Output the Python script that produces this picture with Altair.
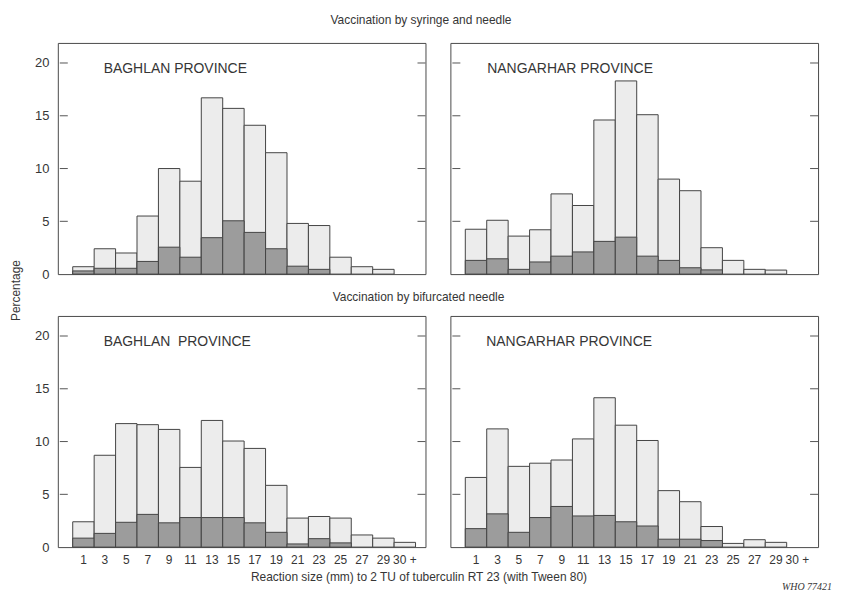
import altair as alt
import pandas as pd

labels = ["1", "3", "5", "7", "9", "11", "13", "15", "17", "19", "21", "23", "25", "27", "29", "30 +"]

# Vaccination by syringe and needle
syr_baghlan_total = [0.7, 2.4, 2.0, 5.5, 10.0, 8.8, 16.7, 15.7, 14.1, 11.5, 4.8, 4.6, 1.6, 0.7, 0.45, 0]
syr_baghlan_hatched = [0.3, 0.55, 0.55, 1.2, 2.55, 1.6, 3.45, 5.05, 3.95, 2.4, 0.75, 0.45, 0, 0, 0, 0]
syr_nangarhar_total = [4.25, 5.1, 3.6, 4.2, 7.6, 6.5, 14.6, 18.3, 15.1, 9.0, 7.9, 2.5, 1.3, 0.45, 0.38, 0]
syr_nangarhar_hatched = [1.3, 1.45, 0.45, 1.15, 1.7, 2.1, 3.1, 3.5, 1.7, 1.3, 0.6, 0.4, 0, 0, 0, 0]

# Vaccination by bifurcated needle
bif_baghlan_total = [2.4, 8.7, 11.7, 11.6, 11.15, 7.55, 12.0, 10.05, 9.35, 5.85, 2.75, 2.9, 2.75, 1.15, 0.85, 0.45]
bif_baghlan_hatched = [0.85, 1.3, 2.35, 3.1, 2.3, 2.8, 2.8, 2.8, 2.3, 1.4, 0.3, 0.8, 0.4, 0, 0, 0]
bif_nangarhar_total = [6.6, 11.2, 7.65, 7.95, 8.25, 10.25, 14.15, 11.55, 10.1, 5.35, 4.3, 1.95, 0.35, 0.7, 0.45, 0]
bif_nangarhar_hatched = [1.75, 3.15, 1.4, 2.8, 3.85, 2.95, 3.0, 2.4, 2.0, 0.75, 0.75, 0.62, 0, 0, 0, 0]

y_tick_values = [0, 5, 10, 15, 20]
inner_ticks = [5, 10, 15, 20]

W, H = 369, 232
Y_MAX = 21.9
FONT = "Liberation Sans"
INK = "#363636"
DOT_FILL = "#ececec"
HATCH_FILL = "#9c9c9c"


def panel(total, hatched, name, name_x, show_x=False, show_y=False,
          pct_title=False, x_title=False, extra=None):
    df = pd.DataFrame({"label": labels, "total": total, "hatched": hatched})
    xscale = alt.Scale(domain=labels, paddingInner=0, paddingOuter=0.58, align=0.6)
    yscale = alt.Scale(domain=[0, Y_MAX], nice=False, zero=True)

    if show_x:
        xkw = dict(labelAngle=0, ticks=False, domain=False, grid=False,
                   labelPadding=7, labelFontSize=12, labelColor=INK, labelFont=FONT)
        if x_title:
            xkw.update(title="Reaction size (mm) to 2 TU of tuberculin RT 23 (with Tween 80)",
                       titleX=362, titleY=30, titleAlign="center", titleBaseline="middle",
                       titleFontSize=12, titleFontWeight="normal", titleColor=INK, titleFont=FONT)
        else:
            xkw.update(title=None)
        xaxis = alt.Axis(**xkw)
    else:
        xaxis = None

    if show_y:
        ykw = dict(values=y_tick_values, ticks=False, domain=False, grid=False,
                   labelPadding=9, labelFontSize=13, labelColor=INK, labelFont=FONT)
        if pct_title:
            ykw.update(title="Percentage", titleX=-42, titleY=248, titleAngle=270,
                       titleAlign="center", titleBaseline="middle", titleFontSize=12,
                       titleFontWeight="normal", titleColor=INK, titleFont=FONT)
        else:
            ykw.update(title=None)
        yaxis = alt.Axis(**ykw)
    else:
        yaxis = None

    x = alt.X("label:O", scale=xscale, axis=xaxis, sort=labels)
    base = alt.Chart(df)
    tot = base.transform_filter("datum.total > 0").mark_bar(
        fill=DOT_FILL, stroke="#444444", strokeWidth=1
    ).encode(x=x, y=alt.Y("total:Q", scale=yscale, axis=yaxis))
    hat = base.transform_filter("datum.hatched > 0").mark_bar(
        fill=HATCH_FILL, stroke="#444444", strokeWidth=1
    ).encode(x=x, y=alt.Y("hatched:Q", scale=yscale, axis=yaxis))

    tdf = pd.DataFrame({"v": inner_ticks})
    lt = alt.Chart(tdf).mark_rule(color="#555555", strokeWidth=1).encode(
        y=alt.Y("v:Q", scale=yscale, axis=yaxis), x=alt.value(2), x2=alt.value(10))
    rt = alt.Chart(tdf).mark_rule(color="#555555", strokeWidth=1).encode(
        y=alt.Y("v:Q", scale=yscale, axis=yaxis), x=alt.value(W - 8), x2=alt.value(W))

    name_layer = alt.Chart(pd.DataFrame({"t": [name]})).mark_text(
        align="left", baseline="middle", fontSize=14, font=FONT, color=INK
    ).encode(text="t:N", x=alt.value(name_x), y=alt.value(26))

    layers = [tot, hat, lt, rt, name_layer]
    if extra is not None:
        layers.extend(extra)
    return alt.layer(*layers).properties(width=W, height=H)


row2_title = alt.Chart(pd.DataFrame({"t": ["Vaccination by bifurcated needle"]})).mark_text(
    align="center", baseline="middle", fontSize=12, font=FONT, color=INK
).encode(text="t:N", x=alt.value(362), y=alt.value(-19))

who = alt.Chart(pd.DataFrame({"t": ["WHO 77421"]})).mark_text(
    align="right", baseline="middle", fontSize=10, font="Liberation Serif",
    fontStyle="italic", color=INK
).encode(text="t:N", x=alt.value(W + 14), y=alt.value(H + 40))

tl = panel(syr_baghlan_total, syr_baghlan_hatched, "BAGHLAN PROVINCE", 46,
           show_y=True, pct_title=True)
tr = panel(syr_nangarhar_total, syr_nangarhar_hatched, "NANGARHAR PROVINCE", 37)
bl = panel(bif_baghlan_total, bif_baghlan_hatched, "BAGHLAN\u00a0 PROVINCE", 46,
           show_x=True, show_y=True, x_title=True, extra=[row2_title])
br = panel(bif_nangarhar_total, bif_nangarhar_hatched, "NANGARHAR PROVINCE", 36,
           show_x=True, extra=[who])

chart = alt.concat(
    tl, tr, bl, br, columns=2, spacing={"row": 42, "column": 25}, bounds="flush"
).properties(
    title=alt.Title("Vaccination by syringe and needle", fontSize=12, fontWeight="normal",
                    font=FONT, color=INK, anchor="middle", offset=16),
    padding={"left": 1, "top": 4, "right": 0, "bottom": 0},
    background="white",
).configure_view(stroke="#4a4a4a", strokeWidth=1)

chart.save("out.html", embed_options={"renderer": "svg", "actions": False})
